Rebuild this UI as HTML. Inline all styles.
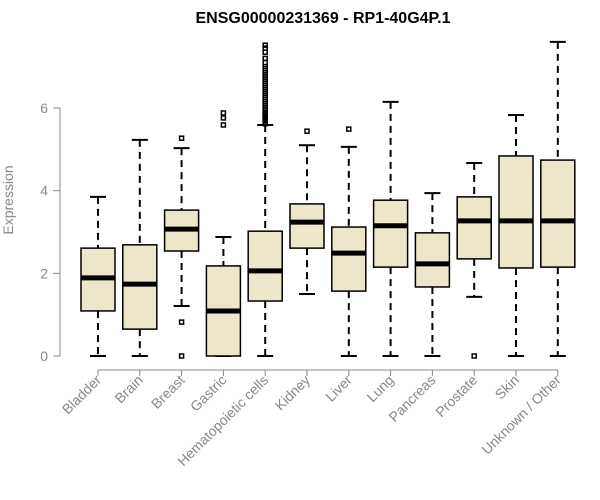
<!DOCTYPE html>
<html><head><meta charset="utf-8"><style>body{margin:0;background:#fff}svg{display:block;font-family:"Liberation Sans",Arial,sans-serif}</style></head>
<body>
<svg id="chart" width="600" height="500">
<text x="323" y="23" text-anchor="middle" font-weight="bold" font-size="16">ENSG00000231369 - RP1-40G4P.1</text>
<text transform="translate(13,200) rotate(-90)" text-anchor="middle" font-size="14" fill="#888">Expression</text>
<g id="yaxis"></g>
<g id="xaxis"></g>
<g id="boxes"></g>
</svg>
<script>
const categories=["Bladder","Brain","Breast","Gastric","Hematopoietic cells","Kidney","Liver","Lung","Pancreas","Prostate","Skin","Unknown / Other"];
const whiskerLow=[0,0,1.21,0,0,1.5,0,0,0,1.43,0,0];
const q1=[1.09,0.65,2.54,0,1.33,2.61,1.57,2.15,1.67,2.35,2.13,2.15];
const medians=[1.89,1.74,3.07,1.09,2.06,3.24,2.49,3.15,2.23,3.27,3.27,3.27];
const q3=[2.61,2.69,3.53,2.18,3.02,3.68,3.12,3.77,2.98,3.85,4.84,4.74];
const whiskerHigh=[3.85,5.23,5.03,2.88,5.59,5.1,5.06,6.15,3.94,4.67,5.83,7.6];
const outliers=[[],[],[5.27,0.82,0],[5.88,5.76,5.59],[5.62,5.66,5.7,5.74,5.78,5.82,5.86,5.9,5.95,6.0,6.05,6.1,6.15,6.2,6.25,6.3,6.35,6.4,6.45,6.5,6.55,6.6,6.65,6.7,6.75,6.8,6.85,6.9,6.95,7.0,7.1,7.2,7.35,7.45,7.52],[5.44],[5.49],[],[],[0],[],[]];
const yTicks=[0,2,4,6];
const NS="http://www.w3.org/2000/svg";
const y=v=>356-v*41.33;
const x=i=>98+i*41.8;
function mk(tag,attrs,parent){const e=document.createElementNS(NS,tag);for(const k in attrs)e.setAttribute(k,attrs[k]);parent.appendChild(e);return e;}
const ya=document.getElementById('yaxis'),xa=document.getElementById('xaxis'),bx=document.getElementById('boxes');
mk('line',{x1:60,x2:60,y1:y(6),y2:y(0),stroke:'#888'},ya);
yTicks.forEach(t=>{mk('line',{x1:53,x2:60,y1:y(t),y2:y(t),stroke:'#888'},ya);
const tx=mk('text',{x:48,y:y(t)+5,'text-anchor':'end','font-size':14,fill:'#888'},ya);tx.textContent=t;

});
mk('line',{x1:x(0),x2:x(categories.length-1),y1:370,y2:370,stroke:'#888'},xa);
categories.forEach((c,i)=>{
mk('line',{x1:x(i),x2:x(i),y1:370,y2:376,stroke:'#888'},xa);
const t=mk('text',{transform:`translate(${x(i)+4},381) rotate(-45)`,'text-anchor':'end','font-size':14,fill:'#888'},xa);t.textContent=c;


const g=mk('g',{},bx);


const cx=x(i),w=17;
mk('line',{x1:cx,x2:cx,y1:y(whiskerHigh[i]),y2:y(q3[i]),stroke:'#000','stroke-width':2,'stroke-dasharray':'7,5'},g);
mk('line',{x1:cx,x2:cx,y1:y(q1[i]),y2:y(whiskerLow[i]),stroke:'#000','stroke-width':2,'stroke-dasharray':'7,5'},g);
mk('line',{x1:cx-8,x2:cx+8,y1:y(whiskerHigh[i]),y2:y(whiskerHigh[i]),stroke:'#000','stroke-width':2},g);
mk('line',{x1:cx-8,x2:cx+8,y1:y(whiskerLow[i]),y2:y(whiskerLow[i]),stroke:'#000','stroke-width':2},g);
mk('rect',{x:cx-w,y:y(q3[i]),width:2*w,height:y(q1[i])-y(q3[i]),fill:'#ede6cb',stroke:'#000','stroke-width':1.5},g);
mk('line',{x1:cx-w,x2:cx+w,y1:y(medians[i]),y2:y(medians[i]),stroke:'#000','stroke-width':5},g);
outliers[i].forEach(o=>mk('rect',{x:cx-2,y:y(o)-2,width:4,height:4,fill:'none',stroke:'#000','stroke-width':1.5},g));
});
</script>
</body></html>
